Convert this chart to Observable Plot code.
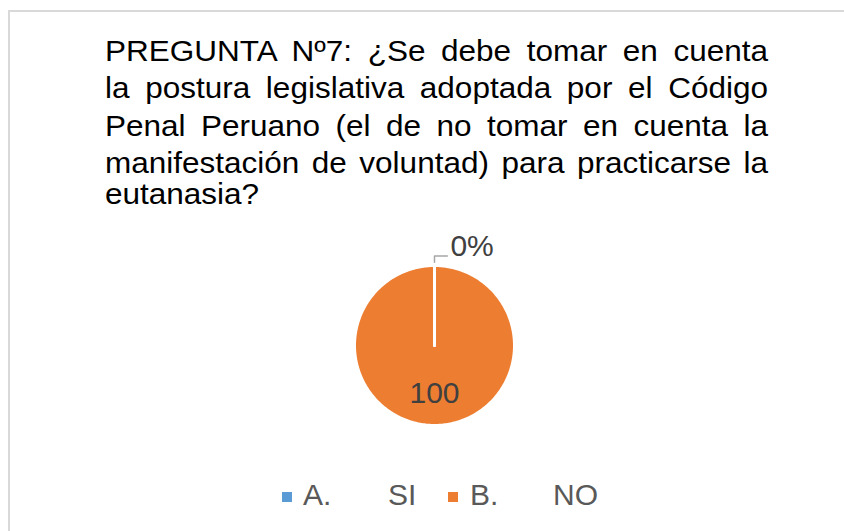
<!DOCTYPE html>
<html>
<head>
<meta charset="utf-8">
<script src="https://cdn.jsdelivr.net/npm/d3@7"></script>
<script src="https://cdn.jsdelivr.net/npm/@observablehq/plot@0.6"></script>
<style>
  html, body { margin: 0; padding: 0; background: #fff; }
  body { width: 844px; height: 531px; overflow: hidden; position: relative; font-family: "Liberation Sans", Arial, sans-serif; }
  #frame { position: absolute; left: 8px; top: 10px; width: 900px; height: 600px; border: 2px solid #d9d9d9; box-sizing: border-box; }
  .tl { position: absolute; left: 105px; width: 663px; font-size: 31.5px; line-height: 36px; color: #000; white-space: nowrap; transform: scaleY(0.93); transform-origin: 0 0; }
  .tl.j { text-align: justify; text-align-last: justify; white-space: normal; }
  #chart { position: absolute; left: 284px; top: 215px; }
  #legend { position: absolute; left: 0; top: 478px; width: 844px; height: 40px; font-size: 30px; color: #595959; }
  .sw { position: absolute; top: 14px; width: 10px; height: 10px; }
  .lt { position: absolute; top: 0; white-space: pre; }
</style>
</head>
<body>
<div id="frame"></div>
<div id="title"></div>
<div id="chart"></div>
<div id="legend"></div>
<script>
// ---- data ----
const titleLines = [
  "PREGUNTA Nº7: ¿Se debe tomar en cuenta",
  "la postura legislativa adoptada por el Código",
  "Penal Peruano (el de no tomar en cuenta la",
  "manifestación de voluntad) para practicarse la",
  "eutanasia?"
];
const categories = ["A.", "B."];
const answers = ["SI", "NO"];
const values = [0, 100];
const labels = ["0%", "100"];
const colors = ["#5b9bd5", "#ed7d31"];

// ---- title ----
const titleTops = [33.8, 71.4, 108.6, 145.8, 177.1];
const titleEl = document.getElementById("title");
titleLines.forEach((line, i) => {
  const d = document.createElement("div");
  d.className = "tl" + (i < titleLines.length - 1 ? " j" : "");
  d.style.top = titleTops[i] + "px";
  d.textContent = line;
  titleEl.appendChild(d);
});

// ---- pie geometry from data ----
const slices = categories.map((c, i) => ({cat: c, value: values[i], label: labels[i], i}));
const arcs = d3.pie().sort(null).value(d => d.value).startAngle(0).endAngle(2 * Math.PI)(slices);
const pts = [];
// big slices first, zero-size slices last so their white edge stays on top
const ordered = arcs.slice().sort((a, b) => (b.endAngle - b.startAngle) - (a.endAngle - a.startAngle));
for (const a of ordered) {
  const id = a.data.cat;
  pts.push({cat: id, x: 0, y: 0});
  const n = Math.max(2, Math.ceil((a.endAngle - a.startAngle) / (Math.PI / 180)));
  for (let k = 0; k <= n; k++) {
    const t = a.startAngle + (a.endAngle - a.startAngle) * k / n;
    pts.push({cat: id, x: Math.sin(t), y: Math.cos(t)});
  }
  pts.push({cat: id, x: 0, y: 0});
}

// label placement
const labelPts = arcs.map(a => {
  const span = a.endAngle - a.startAngle;
  if (span === 0) {
    return {label: a.data.label, x: 0.47, y: 1.24};
  }
  const m = (a.startAngle + a.endAngle) / 2;
  return {label: a.data.label, x: 0.6 * Math.sin(m), y: 0.6 * Math.cos(m)};
});
const leader = [{x: 0, y: 1.04}, {x: 0, y: 1.12}, {x: 0.16, y: 1.12}];

const W = 300, H = 260, R = 80;
const plot = Plot.plot({
  width: W, height: H, margin: 0,
  x: {domain: [-1, 1], range: [W / 2 - R, W / 2 + R], axis: null},
  y: {domain: [-1, 1], range: [H / 2 + R, H / 2 - R], axis: null},
  color: {domain: categories, range: colors},
  style: {fontFamily: "Liberation Sans, Arial, sans-serif", background: "transparent", overflow: "visible"},
  marks: [
    Plot.line(pts, {x: "x", y: "y", z: "cat", fill: "cat", stroke: "#fff", strokeWidth: 3, curve: "linear"}),
    Plot.line(leader, {x: "x", y: "y", stroke: "#a6a6a6", strokeWidth: 1.5}),
    Plot.text(labelPts, {x: "x", y: "y", text: "label", fill: "#404040", fontSize: 30, textAnchor: "middle"})
  ]
});
document.getElementById("chart").appendChild(plot);

// ---- legend ----
const legend = document.getElementById("legend");
const swX = [282, 448], catX = [303, 470], ansX = [388, 553];
categories.forEach((c, i) => {
  const s = document.createElement("div");
  s.className = "sw"; s.style.left = swX[i] + "px"; s.style.background = colors[i];
  legend.appendChild(s);
  const t = document.createElement("div");
  t.className = "lt"; t.style.left = catX[i] + "px"; t.textContent = c;
  legend.appendChild(t);
  const u = document.createElement("div");
  u.className = "lt"; u.style.left = ansX[i] + "px"; u.textContent = answers[i];
  legend.appendChild(u);
});
</script>
</body>
</html>
